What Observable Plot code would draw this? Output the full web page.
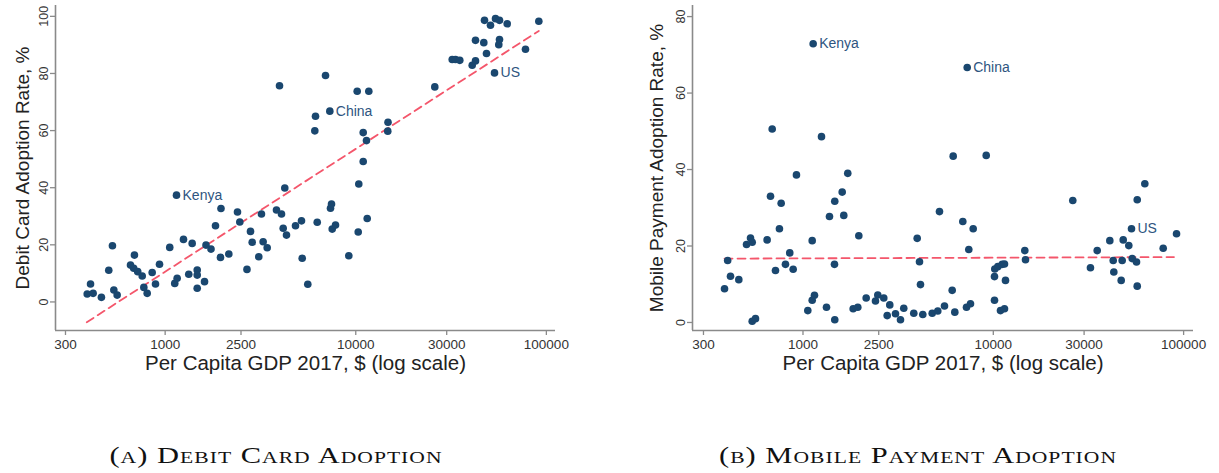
<!DOCTYPE html>
<html><head><meta charset="utf-8">
<script src="https://cdn.jsdelivr.net/npm/d3@7"></script>
<script src="https://cdn.jsdelivr.net/npm/@observablehq/plot@0.6"></script>
<style>
body{margin:0;background:#fff;width:1219px;height:473px;overflow:hidden;position:relative;font-family:"Liberation Sans",Arial,sans-serif;}
#charts{display:flex;position:absolute;left:0;top:0;}
.cap{position:absolute;top:442px;font-family:"Liberation Serif",serif;font-variant:small-caps;font-size:24px;letter-spacing:0.8px;color:#111;white-space:nowrap;transform:translateX(-50%) scaleX(1.27);transform-origin:center;}
</style></head><body>
<div id="charts"></div>
<div class="cap" style="left:276px">(a) Debit Card Adoption</div>
<div class="cap" style="left:918px">(b) Mobile Payment Adoption</div>
<script>
// ---- data ----
const xTicks = [300, 1000, 2500, 10000, 30000, 100000];
const debitYTicks = [0, 20, 40, 60, 80, 100];
const mobileYTicks = [0, 20, 40, 60, 80];
const xTitle = "Per Capita GDP 2017, $ (log scale)";
const debitYTitle = "Debit Card Adoption Rate, %";
const mobileYTitle = "Mobile Payment Adoption Rate, %";

const debitGdp = [390,406,419,463,506,529,538,560,658,684, 690,718,758,773,805,855,890,934,1057,1123,
  1156,1147,1248,1330,1386,1473,1473,1473,1609,1638, 1740,1837,1963,1951,2158,2396,2464,2687,2804,2862,
  3099,3201,3267,3430,3838,3981,4078,4162,4243,4331, 4829,5191,5236,5602,6098,6149,6278,6939,7310,7370,
  7460,7524,7830,9194,10175,10300,10373,10940,10940,11384, 11482,11706,14762,14720,25980,32060,33370,35140,40820,42480,
  42480,46960,48520,47360,50910,54090,56770,62300,56770,56280, 53450,77700,91280];
const debitRate = [2.8,6.3,3.0,1.6,11.1,19.7,4.2,2.4,12.9,11.8, 16.4,10.6,9.1,5.1,3.0,10.3,6.3,13.2,19.1,6.5,
  8.3,37.4,21.9,9.7,20.5,11.2,9.4,4.8,7.1,19.9, 18.5,26.7,32.7,15.6,16.8,31.5,28.0,11.4,24.7,20.9,
  15.8,30.8,21.1,19.0,32.2,75.7,30.8,25.8,39.9,23.4, 26.7,28.4,15.3,6.2,59.9,65.0,27.9,79.3,66.8,32.8,
  34.3,25.5,26.9,16.2,73.8,24.5,41.3,49.2,59.3,56.5, 29.2,73.8,62.9,59.8,75.3,84.9,84.9,84.6,82.9,84.4,
  91.6,90.8,87.0,98.6,96.9,99.2,98.6,97.4,91.9,90.1, 80.2,88.5,98.3];

const mobileGdp = [387,402,416,460,505,530,541,541,563,648, 675,689,717,752,768,809,852,888,924,1060,
  1118,1131,1118,1149,1251,1329,1378,1469,1464,1469, 1607,1638,1719,1835,1941,1965,2148,2404,2472,2658,
  2858,2770,3062,3253,3385,3821,3982,4095,4144,4261, 4775,5108,5215,5540,6081,6155,6277,6915,7293,7231,
  7434,7588,7840,9178,10146,10146,10181,10558,10909,11135, 11449,11449,11590,14640,14765,26160,32400,35150,40950,42660,
  42980,46990,47560,48150,51520,53230,53690,56560,57050,57050, 62540,78120,91790];
const mobileRate = [8.8,16.2,12.1,11.2,20.4,22.1,21.0,0.3,1.0,21.6, 33.0,50.6,13.6,24.5,31.2,15.2,18.2,13.9,38.6,3.1,
  21.4,72.9,5.8,7.1,48.6,4.0,27.7,31.7,15.2,0.7, 34.1,28.0,39.0,3.6,4.0,22.7,6.4,5.6,7.2,6.4,
  4.6,1.8,2.3,0.7,3.7,2.4,22.0,15.9,9.9,2.1, 2.4,3.0,29.0,4.3,8.4,43.5,2.7,26.4,66.7,4.0,
  19.1,4.9,24.5,43.7,5.8,12.0,14.0,14.6,3.1,15.2, 15.3,3.6,11.0,18.8,16.4,31.9,14.3,18.8,21.4,16.2,
  13.2,11.0,16.2,21.6,20.1,24.5,16.7,15.8,32.1,9.5, 36.3,19.4,23.2];

const labelNames = ["Kenya", "China", "US"];
const debitLabelGdp = [1147, 7310, 53450];
const debitLabelRate = [37.4, 66.8, 80.2];
const mobileLabelGdp = [1131, 7293, 53230];
const mobileLabelRate = [72.9, 66.7, 24.5];

const debitFitGdp = [388, 91280];
const debitFitRate = [-7.1, 94.9];
const mobileFitGdp = [387, 89000];
const mobileFitRate = [16.7, 17.1];

// ---- drawing ----
const NAVY = "#1a476f";
const AXIS = "#8a8a8a";
function panel(o) {
  const pts = o.gdp.map((g, i) => ({g, r: o.rate[i]}));
  const fit = o.fitGdp.map((g, i) => ({g, r: o.fitRate[i]}));
  const labs = labelNames.map((n, i) => ({n, g: o.labGdp[i], r: o.labRate[i]}));
  return Plot.plot({
    width: o.width, height: 380,
    marginLeft: o.ml, marginRight: o.mr, marginTop: 5, marginBottom: 50,
    style: {fontFamily: "Liberation Sans, Arial, sans-serif", background: "white", color: "#333"},
    x: {type: "log", domain: o.xDomain},
    y: {domain: o.yDomain},
    marks: [
      Plot.axisY({ticks: o.yTicks, tickRotate: -90, tickSize: 5, tickPadding: 3, fontSize: 12.5, label: null, stroke: AXIS, strokeWidth: 1.3}),
      Plot.axisX({ticks: xTicks, tickFormat: d => String(d), tickSize: 5, tickPadding: 4, fontSize: 13.5, label: null, stroke: AXIS, strokeWidth: 1.3}),
      Plot.ruleX([o.xDomain[0]], {stroke: AXIS, strokeWidth: 1.6}),
      Plot.ruleY([o.yDomain[0]], {stroke: AXIS, strokeWidth: 1.6}),
      Plot.text([o.yTitle], {frameAnchor: "left", rotate: -90, dx: o.ytdx, textAnchor: "middle", lineAnchor: "middle", fontSize: 19, fill: "#222"}),
      Plot.text([xTitle], {frameAnchor: "bottom", dy: 33, textAnchor: "middle", lineAnchor: "middle", fontSize: 20.5, fill: "#222"}),
      Plot.line(fit, {x: "g", y: "r", stroke: "#f4566b", strokeWidth: 1.8, strokeDasharray: "8,5"}),
      Plot.dot(pts, {x: "g", y: "r", r: 3.8, fill: NAVY}),
      Plot.text(labs, {x: "g", y: "r", text: "n", dx: 6, textAnchor: "start", fill: "#2e5580", fontSize: 14})
    ]
  });
}
const holder = document.getElementById("charts");
holder.appendChild(panel({
  gdp: debitGdp, rate: debitRate, fitGdp: debitFitGdp, fitRate: debitFitRate,
  labGdp: debitLabelGdp, labRate: debitLabelRate, yTicks: debitYTicks, yTitle: debitYTitle,
  width: 609, ml: 55, mr: 54, xDomain: [265.9, 111660], yDomain: [-10, 103.8], ytdx: -33
}));
holder.appendChild(panel({
  gdp: mobileGdp, rate: mobileRate, fitGdp: mobileFitGdp, fitRate: mobileFitRate,
  labGdp: mobileLabelGdp, labRate: mobileLabelRate, yTicks: mobileYTicks, yTitle: mobileYTitle,
  width: 610, ml: 83, mr: 26, xDomain: [262.7, 112700], yDomain: [-2.1, 82.9], ytdx: -36
}));
</script>
</body></html>
